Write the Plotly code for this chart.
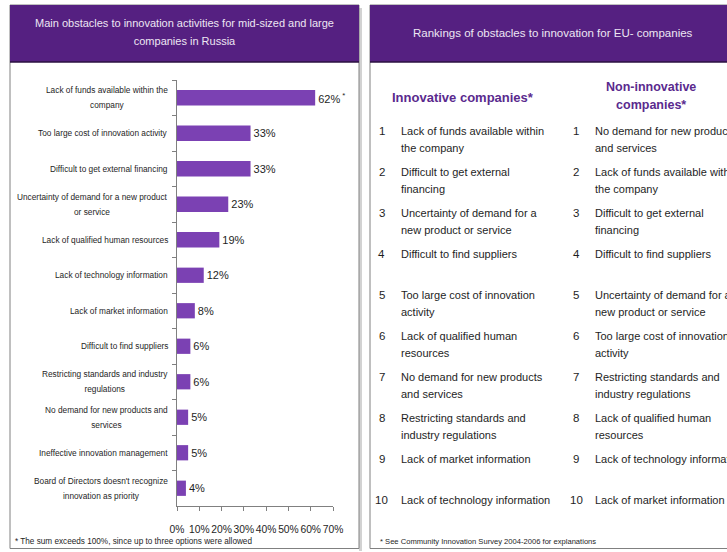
import plotly.graph_objects as go

W, H = 727, 552

# ---------------- data ----------------
left_title = "Main obstacles to innovation activities for mid-sized and large<br>companies in Russia"
categories = [
    "Lack of funds available within the<br>company",
    "Too large cost of innovation activity",
    "Difficult to get external financing",
    "Uncertainty of demand for a new product<br>or service",
    "Lack of qualified human resources",
    "Lack of technology information",
    "Lack of market information",
    "Difficult to find suppliers",
    "Restricting standards and industry<br>regulations",
    "No demand for new products and<br>services",
    "Ineffective innovation management",
    "Board of Directors doesn't recognize<br>innovation as priority",
]
values = [62, 33, 33, 23, 19, 12, 8, 6, 6, 5, 5, 4]
x_ticks = [0, 10, 20, 30, 40, 50, 60, 70]
x_tick_labels = ["0%", "10%", "20%", "30%", "40%", "50%", "60%", "70%"]
left_note = "* The sum exceeds 100%, since up to three options were allowed"

right_title = "Rankings of obstacles to innovation for EU- companies"
col_innov_title = "Innovative companies*"
col_non_title = "Non-innovative<br>companies*"
ranks = [1, 2, 3, 4, 5, 6, 7, 8, 9, 10]
innovative = [
    "Lack of funds available within<br>the company",
    "Difficult to get external<br>financing",
    "Uncertainty of demand for a<br>new product or service",
    "Difficult to find suppliers",
    "Too large cost of innovation<br>activity",
    "Lack of qualified human<br>resources",
    "No demand for new products<br>and services",
    "Restricting standards and<br>industry regulations",
    "Lack of market information",
    "Lack of technology information",
]
non_innovative = [
    "No demand for new products<br>and services",
    "Lack of funds available within<br>the company",
    "Difficult to get external<br>financing",
    "Difficult to find suppliers",
    "Uncertainty of demand for a<br>new product or service",
    "Too large cost of innovation<br>activity",
    "Restricting standards and<br>industry regulations",
    "Lack of qualified human<br>resources",
    "Lack of technology information",
    "Lack of market information",
]
right_note = "* See Community Innovation Survey 2004-2006 for explanations"

# ---------------- style ----------------
FONT = "Liberation Sans, Arial, sans-serif"
PURPLE_HDR = "#552081"
PURPLE_BAR = "#7B41B3"
PURPLE_TXT = "#5A2A8E"
TXT = "#1E1E1E"
BORDER = "#808080"


def px(x):
    return x / W


def py(y):
    return 1 - y / H


def spaced(text, glyph_size):
    """wrap text in a span so glyphs are smaller than the line pitch"""
    return "<br>".join(f"<span style='font-size:{glyph_size}px'>{t}</span>" for t in text.split("<br>"))


bar_text = [f"{v}%" for v in values]
bar_text[0] = bar_text[0] + "<sup> *</sup>"

fig = go.Figure()
fig.add_trace(go.Bar(
    x=values, y=categories, orientation="h",
    marker=dict(color=PURPLE_BAR, line=dict(width=0)),
    text=bar_text, textposition="outside", cliponaxis=False,
    textfont=dict(family=FONT, size=11, color=TXT),
    hoverinfo="skip",
))

shapes = []
# left panel
shapes.append(dict(type="rect", xref="paper", yref="paper", x0=px(359), x1=px(362), y0=py(551), y1=py(8),
                   fillcolor="#D2D2D2", line=dict(width=0), layer="below"))
shapes.append(dict(type="rect", xref="paper", yref="paper", x0=px(10), x1=px(359), y0=py(548.5), y1=py(5),
                   fillcolor="white", line=dict(color=BORDER, width=1), layer="below"))
shapes.append(dict(type="rect", xref="paper", yref="paper", x0=px(10), x1=px(359), y0=py(62), y1=py(5),
                   fillcolor=PURPLE_HDR, line=dict(width=0), layer="below"))
shapes.append(dict(type="line", xref="paper", yref="paper", x0=px(10), x1=px(359), y0=py(62), y1=py(62),
                   line=dict(color="#2B1040", width=1.5), layer="below"))
# right panel
shapes.append(dict(type="rect", xref="paper", yref="paper", x0=px(370), x1=px(745), y0=py(548.5), y1=py(5),
                   fillcolor="white", line=dict(color=BORDER, width=1), layer="below"))
shapes.append(dict(type="rect", xref="paper", yref="paper", x0=px(370), x1=px(745), y0=py(62), y1=py(5),
                   fillcolor=PURPLE_HDR, line=dict(width=0), layer="below"))
shapes.append(dict(type="line", xref="paper", yref="paper", x0=px(370), x1=px(745), y0=py(62), y1=py(62),
                   line=dict(color="#2B1040", width=1.5), layer="below"))

ann = []
ann.append(dict(text=spaced(left_title, 11), xref="paper", yref="paper", x=px(184.5), y=py(32.5),
                xanchor="center", yanchor="middle", align="center", showarrow=False,
                font=dict(family=FONT, size=14, color="#EDE6F3")))
ann.append(dict(text=right_title, xref="paper", yref="paper", x=px(553), y=py(33), xanchor="center",
                yanchor="middle", align="center", showarrow=False,
                font=dict(family=FONT, size=11.5, color="#EDE6F3")))

# category labels (centered lines, right anchored)
for c in categories:
    ann.append(dict(text=spaced(c, 8.3), xref="paper", yref="y", x=px(170), y=c, xanchor="right",
                    yanchor="middle", align="center", showarrow=False,
                    font=dict(family=FONT, size=11.5, color=TXT)))

ann.append(dict(text=left_note, xref="paper", yref="paper", x=px(13), y=py(541.5), xanchor="left",
                yanchor="middle", showarrow=False, font=dict(family=FONT, size=8.2, color=TXT)))

# right table
ann.append(dict(text=f"<b>{col_innov_title}</b>", xref="paper", yref="paper", x=px(463), y=py(97),
                xanchor="center", yanchor="middle", showarrow=False,
                font=dict(family=FONT, size=13, color=PURPLE_TXT)))
ann.append(dict(text="<b>" + spaced(col_non_title, 12.5) + "</b>", xref="paper", yref="paper",
                x=px(651), y=py(96), xanchor="center", yanchor="middle", align="center", showarrow=False,
                font=dict(family=FONT, size=14, color=PURPLE_TXT)))

row_first, row_step, line_step = 130.5, 41.1, 17
for i, r in enumerate(ranks):
    yc = row_first + row_step * i
    for xn, xt, items in ((381.5, 399, innovative), (576, 593, non_innovative)):
        ann.append(dict(text=str(r), xref="paper", yref="paper", x=px(xn), y=py(yc), xanchor="center",
                        yanchor="middle", showarrow=False, font=dict(family=FONT, size=11.5, color=TXT)))
        for j, line in enumerate(items[i].split("<br>")):
            ann.append(dict(text=line, xref="paper", yref="paper", x=px(xt), y=py(yc + line_step * j),
                            xanchor="left", yanchor="middle", align="left", showarrow=False,
                            font=dict(family=FONT, size=11, color=TXT)))

ann.append(dict(text=right_note, xref="paper", yref="paper", x=px(378.5), y=py(541.5), xanchor="left",
                yanchor="middle", showarrow=False, font=dict(family=FONT, size=7.6, color=TXT)))

fig.update_layout(
    width=W, height=H, margin=dict(l=0, r=0, t=0, b=0, autoexpand=False),
    paper_bgcolor="white", plot_bgcolor="rgba(0,0,0,0)",
    showlegend=False, bargap=0.57,
    shapes=shapes, annotations=ann,
    font=dict(family=FONT, color=TXT),
    xaxis=dict(domain=[px(177), px(333)], range=[0, 70], tickvals=x_ticks, ticktext=x_tick_labels,
               ticks="outside", ticklen=4, tickcolor=BORDER, showline=True, linecolor=BORDER,
               showgrid=False, zeroline=False, tickfont=dict(family=FONT, size=10.3, color=TXT),
               tickangle=0, automargin=False, ticklabelstandoff=10, fixedrange=True),
    yaxis=dict(domain=[py(506), py(80)], type="category", autorange="reversed", showticklabels=False,
               ticks="outside", tickson="boundaries", ticklen=4, tickcolor=BORDER, showline=True,
               linecolor=BORDER, showgrid=False, zeroline=False, automargin=False, fixedrange=True),
)

fig.write_html("out.html", config={"displayModeBar": False},
               post_script="document.body.style.margin='0px';")
